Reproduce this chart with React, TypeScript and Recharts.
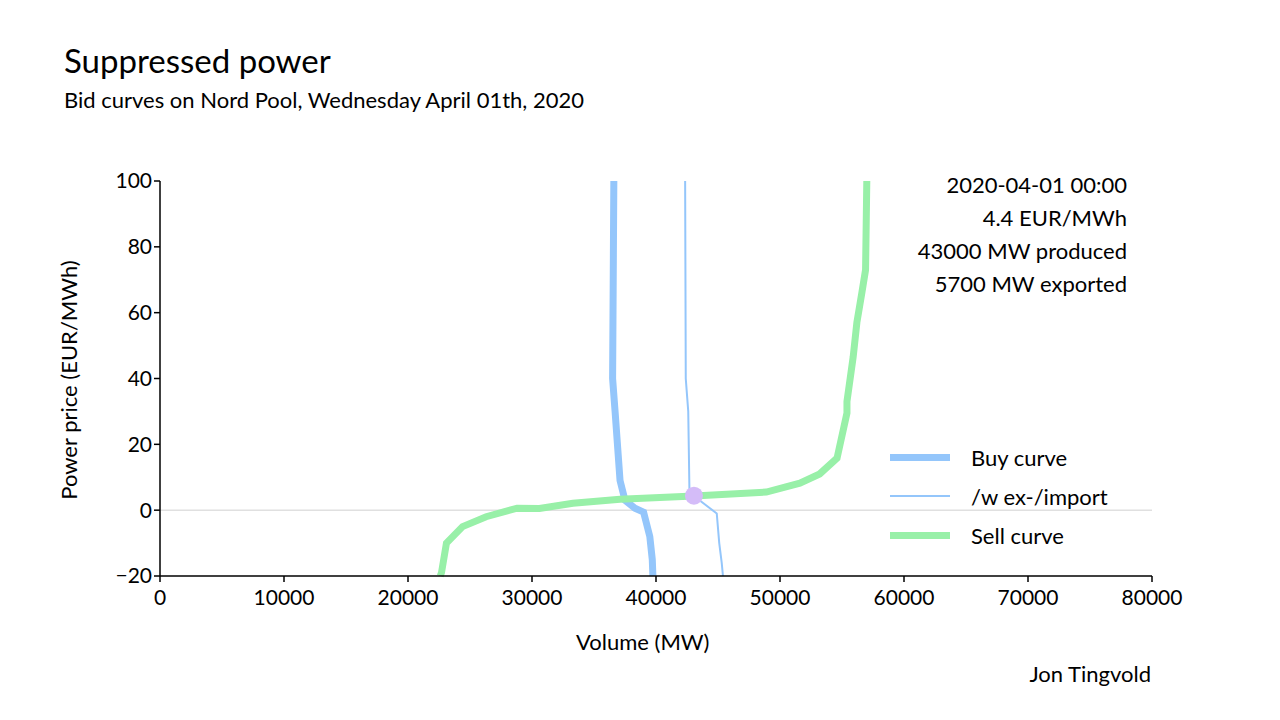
import React from 'react';
import { LineChart, Line, XAxis, YAxis, ReferenceLine, ReferenceDot } from 'recharts';

// Bid curves, points: [volume MW, price EUR/MWh]
const buyVolume = [36600, 36500, 36700, 37100, 37500, 38300, 39000, 39500, 39700, 39750];
const buyPrice = [100, 40, 30, 9, 3, 0.6, -0.6, -8, -15, -20];

const importVolume = [42350, 42400, 42600, 42700, 43060, 44900, 45100, 45300, 45400];
const importPrice = [100, 40, 30, 5, 4.3, -1, -10, -16, -20];

const sellVolume = [22600, 22700, 23100, 24400, 26300, 28800, 30600, 33300, 37100, 43060, 48900, 51600, 53200, 54600, 55400, 55400, 55900, 56200, 56600, 56900, 57000];
const sellPrice = [-20, -19, -10, -5, -2, 0.6, 0.5, 2.1, 3.3, 4.3, 5.5, 8.2, 11, 15.8, 29.5, 33, 46.5, 57, 66, 73, 100];

const xTicks = [0, 10000, 20000, 30000, 40000, 50000, 60000, 70000, 80000];
const yTicks = [-20, 0, 20, 40, 60, 80, 100];
const infoLines = ['2020-04-01 00:00', '4.4 EUR/MWh', '43000 MW produced', '5700 MW exported'];

const toPoints = (xs: number[], ys: number[]) => xs.map((x, i) => ({ x, y: ys[i] }));

const BLUE = '#94c6fb';
const GREEN = '#98f0a8';
const FONT = 'Lato, "DejaVu Sans", sans-serif';

export default function App() {
  const tick = { fontSize: 21, fill: '#000', fontFamily: FONT };
  return (
    <div style={{ position: 'absolute', left: 0, top: 0, width: 1280, height: 720, background: '#fff', fontFamily: FONT }}>
      <div style={{ position: 'absolute', left: 64, top: 40, fontSize: 33 }}>Suppressed power</div>
      <div style={{ position: 'absolute', left: 64, top: 86, fontSize: 22 }}>Bid curves on Nord Pool, Wednesday April 01th, 2020</div>
      <LineChart width={1280} height={720} margin={{ top: 181, left: 100, right: 128, bottom: 84 }}>
        <XAxis type="number" dataKey="x" domain={[0, 80000]} ticks={xTicks} tick={tick} stroke="#000" strokeWidth={1.5} height={60} tickSize={6} tickMargin={8} interval={0} allowDuplicatedCategory={false} />
        <YAxis type="number" dataKey="y" domain={[-20, 100]} ticks={yTicks} tick={tick} stroke="#000" strokeWidth={1.5} width={60} tickSize={6} interval={0} tickFormatter={(v: number) => (v < 0 ? `\u2212${-v}` : `${v}`)} />
        <ReferenceLine y={0} stroke="#d0d0d0" strokeWidth={1} />
        <Line data={toPoints(buyVolume, buyPrice)} dataKey="y" type="linear" stroke={BLUE} strokeWidth={7} dot={false} isAnimationActive={false} />
        <Line data={toPoints(importVolume, importPrice)} dataKey="y" type="linear" stroke={BLUE} strokeWidth={2} dot={false} isAnimationActive={false} />
        <Line data={toPoints(sellVolume, sellPrice)} dataKey="y" type="linear" stroke={GREEN} strokeWidth={7} dot={false} isAnimationActive={false} />
        <ReferenceDot x={43060} y={4.4} r={9} fill="#d4bcf8" stroke="none" />
      </LineChart>
      <div style={{ position: 'absolute', left: 576, top: 628, fontSize: 22 }}>Volume (MW)</div>
      <div style={{ position: 'absolute', left: 68, top: 380, fontSize: 22, transform: 'translate(-50%, -50%) rotate(-90deg)', whiteSpace: 'nowrap' }}>Power price (EUR/MWh)</div>
      <div style={{ position: 'absolute', right: 153, top: 168, fontSize: 22, textAlign: 'right', lineHeight: '33px' }}>
        {infoLines.map((l) => <div key={l}>{l}</div>)}
      </div>
      {[
        { label: 'Buy curve', color: BLUE, w: 7 },
        { label: '/w ex-/import', color: BLUE, w: 2 },
        { label: 'Sell curve', color: GREEN, w: 7 },
      ].map((e, i) => (
        <div key={e.label} style={{ position: 'absolute', left: 890, top: 443 + i * 39, height: 28, display: 'flex', alignItems: 'center', fontSize: 22 }}>
          <div style={{ width: 60, height: e.w, background: e.color, marginRight: 21 }} />
          {e.label}
        </div>
      ))}
      <div style={{ position: 'absolute', right: 129, top: 660, fontSize: 22 }}>Jon Tingvold</div>
    </div>
  );
}
